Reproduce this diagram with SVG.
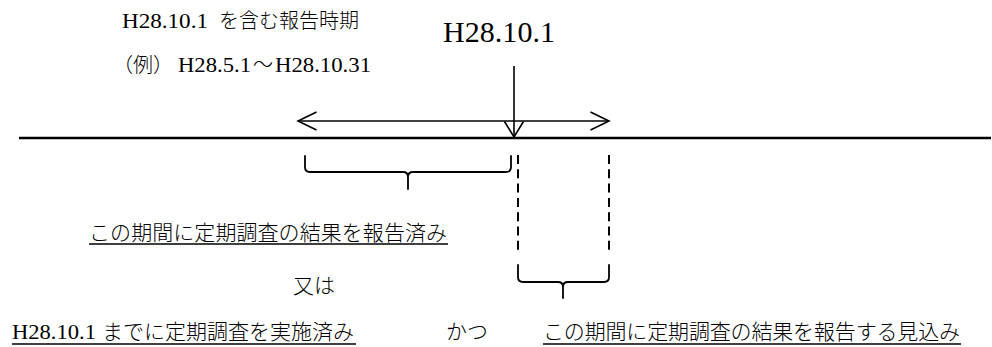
<svg xmlns="http://www.w3.org/2000/svg" width="992" height="347" viewBox="0 0 992 347">
  <style>
    .lat { font-family: "Liberation Serif", serif; font-size: 21px; fill: #000; }
    .big { font-family: "Liberation Serif", serif; font-size: 30px; fill: #000; }
    .jp { font-family: "Noto Sans CJK JP", sans-serif; font-size: 20px; font-weight: 300; fill: #000; }
    .jp2 { font-family: "Noto Sans CJK JP", sans-serif; font-size: 21px; font-weight: 300; fill: #000; }
    .ln { stroke: #000; fill: none; }
    .ul { stroke: #000; stroke-width: 1.3; }
    .dash { stroke: #000; stroke-width: 2; stroke-dasharray: 9 5.3; fill: none; }
    .brace { stroke: #000; stroke-width: 1.8; fill: none; stroke-linecap: round; stroke-linejoin: round; }
  </style>
  <defs>
    <marker id="openH" markerUnits="userSpaceOnUse" viewBox="0 0 20 20" markerWidth="20" markerHeight="20" refX="19" refY="10" orient="auto-start-reverse" overflow="visible">
      <path d="M0.5,1 L19,10 L0.5,19" fill="none" stroke="#000" stroke-width="1.6"/>
    </marker>
    <marker id="openV" markerUnits="userSpaceOnUse" viewBox="0 0 17 20" markerWidth="17" markerHeight="20" refX="16" refY="10" orient="auto" overflow="visible">
      <path d="M0.5,0.5 L16,10 L0.5,19.5" fill="none" stroke="#000" stroke-width="1.6"/>
    </marker>
  </defs>

  <g id="connectors">
    <line id="timeline" class="ln" x1="19" y1="138" x2="991" y2="138" stroke-width="2.4"/>
    <line id="period-arrow" class="ln" x1="298" y1="121" x2="609" y2="121" stroke-width="1.6" marker-start="url(#openH)" marker-end="url(#openH)"/>
    <line id="date-arrow" class="ln" x1="514" y1="66" x2="514" y2="137" stroke-width="1.6" marker-end="url(#openV)"/>
    <line id="dash-left" class="dash" x1="518" y1="155" x2="518" y2="254"/>
    <line id="dash-right" class="dash" x1="609" y1="155" x2="609" y2="254"/>
    <path id="brace-left" class="brace" d="M305,156 V167 Q305,172 310,172 H403 Q408,172 408,177 V189 M408,177 Q408,172 413,172 H506 Q511,172 511,167 V156"/>
    <path id="brace-right" class="brace" d="M518,265 V277 Q518,282 523,282 H558 Q563,282 563,287 V298 M563,287 Q563,282 568,282 H604 Q609,282 609,277 V265"/>
  </g>

  <g id="label-period">
    <text class="lat" x="122" y="28" textLength="86" lengthAdjust="spacingAndGlyphs">H28.10.1</text>
    <text class="jp" x="219" y="28" textLength="140">を含む報告時期</text>
    <text class="jp" x="113" y="72">（例）</text>
    <text class="lat" x="178" y="72" textLength="73" lengthAdjust="spacingAndGlyphs">H28.5.1</text>
    <text class="jp" x="253" y="72">～</text>
    <text class="lat" x="275" y="72" textLength="96" lengthAdjust="spacingAndGlyphs">H28.10.31</text>
  </g>

  <g id="label-date">
    <text class="big" x="443" y="42" textLength="112">H28.10.1</text>
  </g>

  <g id="label-reported">
    <text class="jp2" x="89" y="240" textLength="358">この期間に定期調査の結果を報告済み</text>
    <line class="ul" x1="89" y1="244" x2="448" y2="244"/>
  </g>

  <g id="label-or">
    <text class="jp2" x="293" y="293">又は</text>
  </g>

  <g id="label-done">
    <text class="lat" x="12" y="339" textLength="84" lengthAdjust="spacingAndGlyphs">H28.10.1</text>
    <text class="jp2" x="102" y="339" textLength="252">までに定期調査を実施済み</text>
    <line class="ul" x1="12" y1="344" x2="356" y2="344"/>
  </g>

  <g id="label-and">
    <text class="jp2" x="446" y="339">かつ</text>
  </g>

  <g id="label-expected">
    <text class="jp2" x="543" y="339" textLength="417">この期間に定期調査の結果を報告する見込み</text>
    <line class="ul" x1="543" y1="344" x2="961" y2="344"/>
  </g>
</svg>
